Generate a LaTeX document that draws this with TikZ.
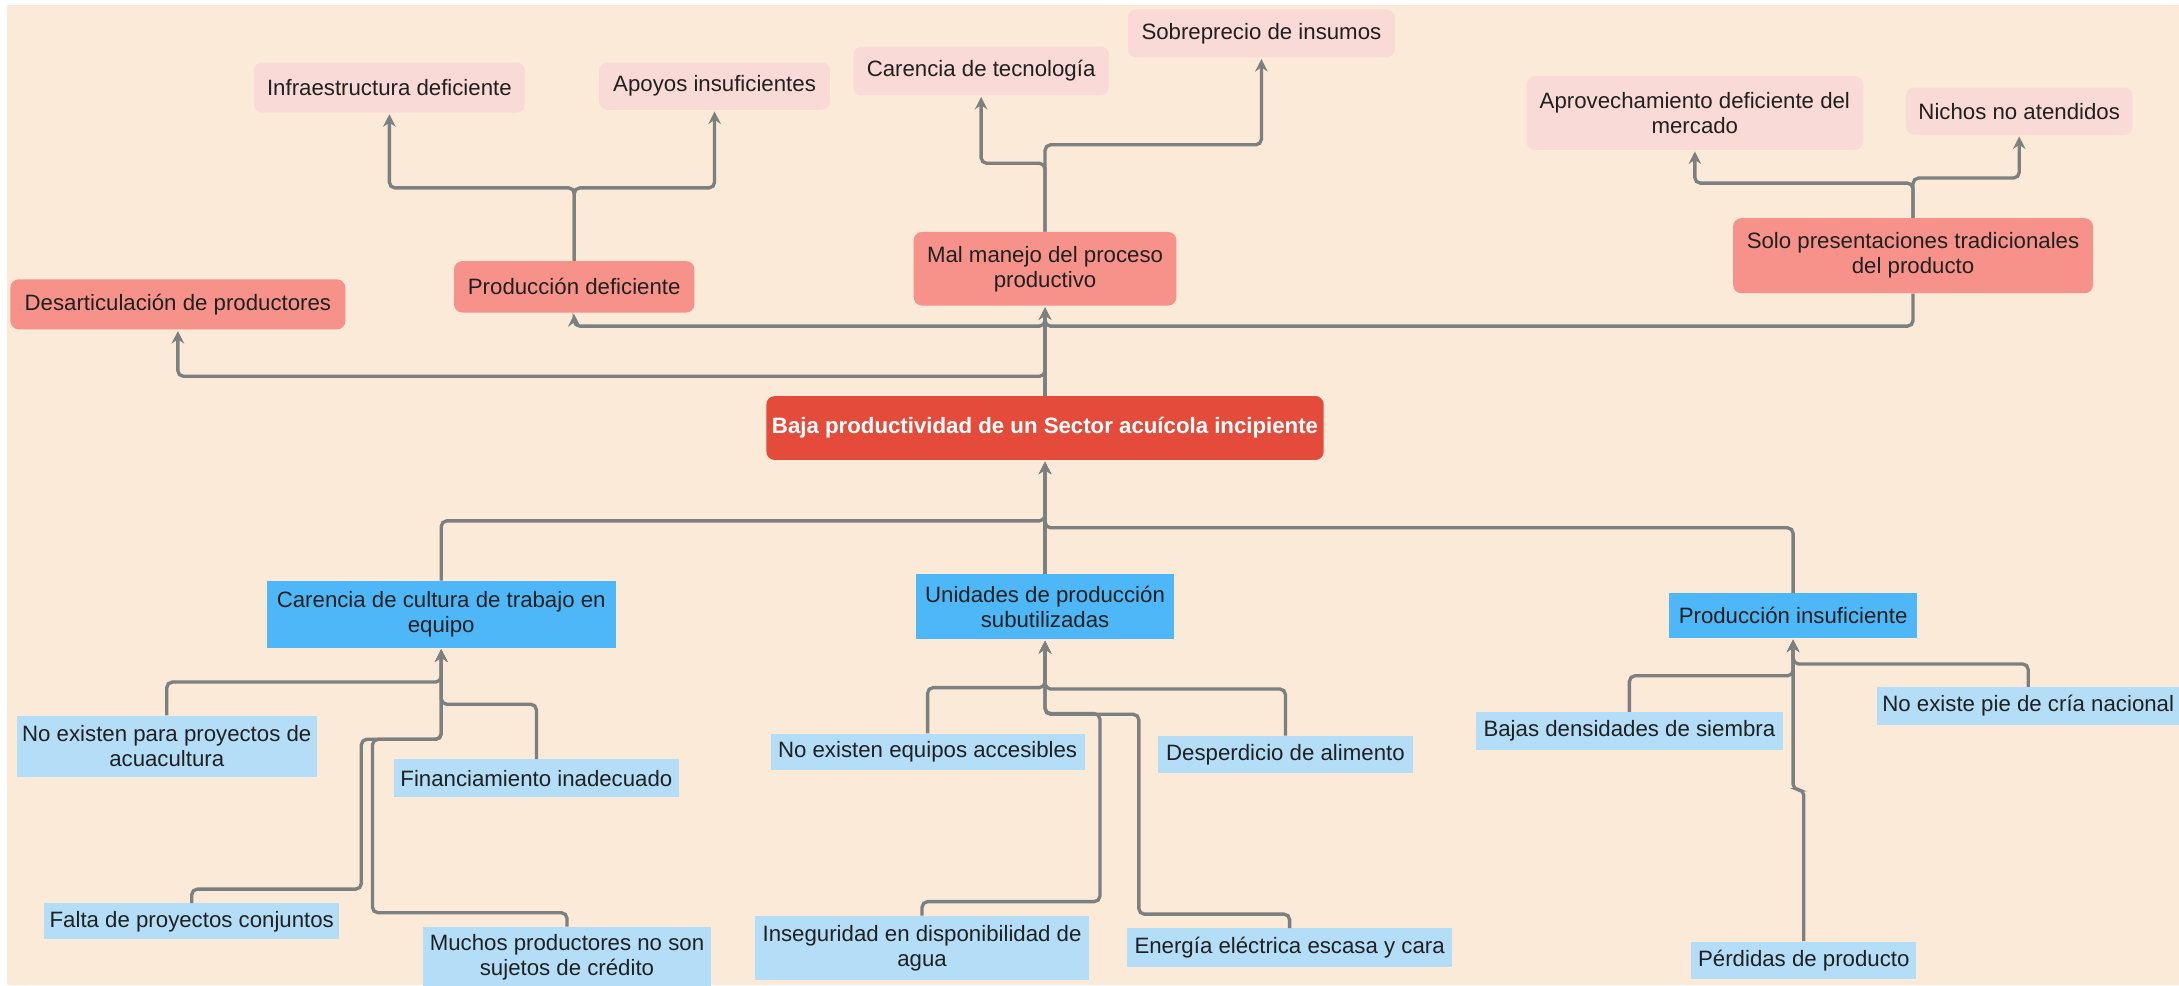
\documentclass[tikz,border=0pt]{standalone}
\usepackage{fontspec}
\setmainfont{Liberation Sans}
\usetikzlibrary{arrows.meta}
\definecolor{cbg}{HTML}{FAEAD7}
\definecolor{cpink}{HTML}{F9DAD6}
\definecolor{csalmon}{HTML}{F7928A}
\definecolor{cred}{HTML}{E54B3B}
\definecolor{cblue}{HTML}{4DB7F7}
\definecolor{clight}{HTML}{B4DEF8}
\definecolor{cline}{HTML}{7D8080}
\definecolor{ctxt}{HTML}{202020}
\begin{document}
\begin{tikzpicture}[x=1pt,y=-1pt,
  base/.style={inner sep=0pt, align=center, font=\fontsize{16}{18}\selectfont, text=ctxt},
  toppink/.style={base, fill=cpink, rounded corners=6pt},
  salmon/.style={base, fill=csalmon, rounded corners=6pt},
  core/.style={base, fill=cred, rounded corners=6pt, text=white, font=\fontsize{16}{18}\selectfont\bfseries},
  cause/.style={base, fill=cblue},
  leaf/.style={base, fill=clight},
  conn/.style={draw=cline, line width=2.4pt, rounded corners=4pt},
  arr/.style={conn, -{Stealth[length=9pt,width=9pt,inset=3pt]}, shorten >=1pt}]
\useasboundingbox (0,0) rectangle (1568,709);
\clip (0,0) rectangle (1568,709);
\fill[white] (0,0) rectangle (1568,709);
\fill[cbg] (5,3.6) rectangle (1568,709);

% top level (effects of effects)
\node[toppink, minimum width=195pt, minimum height=36pt] (inf) at (280.2,63) {Infraestructura deficiente};
\node[toppink, minimum width=166pt, minimum height=34pt] (apo) at (514.2,62) {Apoyos insuficientes};
\node[toppink, minimum width=184pt, minimum height=35pt] (tec) at (706,51) {Carencia de tecnología};
\node[toppink, minimum width=192pt, minimum height=34.5pt] (sob) at (907.7,24) {Sobreprecio de insumos};
\node[toppink, minimum width=242pt, minimum height=53pt] (apr) at (1219.6,81.3) {Aprovechamiento deficiente del\\mercado};
\node[toppink, minimum width=163pt, minimum height=34pt] (nic) at (1453,80) {Nichos no atendidos};

% effects
\node[salmon, minimum width=241pt, minimum height=36pt] (des) at (128,219) {Desarticulación de productores};
\node[salmon, minimum width=173pt, minimum height=37pt] (pde) at (413.2,206.4) {Producción deficiente};
\node[salmon, minimum width=189pt, minimum height=53pt] (mal) at (752,193.4) {Mal manejo del proceso\\productivo};
\node[salmon, minimum width=259pt, minimum height=54pt] (sol) at (1376.6,184) {Solo presentaciones tradicionales\\del producto};

% core problem
\node[core, minimum width=401pt, minimum height=46pt] (cen) at (752,308) {Baja productividad de un Sector acuícola incipiente};

% causes
\node[cause, minimum width=251pt, minimum height=48pt] (cul) at (317.5,442) {Carencia de cultura de trabajo en\\equipo};
\node[cause, minimum width=186pt, minimum height=47pt] (uni) at (752,436.5) {Unidades de producción\\subutilizadas};
\node[cause, minimum width=178pt, minimum height=32pt] (pin) at (1290.3,443) {Producción insuficiente};

% sub causes
\node[leaf, minimum width=216pt, minimum height=44pt] (nex) at (120,537) {No existen para proyectos de\\acuacultura};
\node[leaf, minimum width=205pt, minimum height=27pt] (fin) at (386,560) {Financiamiento inadecuado};
\node[leaf, minimum width=212pt, minimum height=26pt] (fal) at (138,663) {Falta de proyectos conjuntos};
\node[leaf, minimum width=207pt, minimum height=44pt] (muc) at (408,689) {Muchos productores no son\\sujetos de crédito};
\node[leaf, minimum width=226pt, minimum height=26pt] (neq) at (667.5,541) {No existen equipos accesibles};
\node[leaf, minimum width=184pt, minimum height=27pt] (dsp) at (925,543) {Desperdicio de alimento};
\node[leaf, minimum width=240pt, minimum height=46pt] (ins) at (663.5,682) {Inseguridad en disponibilidad de\\agua};
\node[leaf, minimum width=234pt, minimum height=28pt] (ene) at (928,682) {Energía eléctrica escasa y cara};
\node[leaf, minimum width=221pt, minimum height=27pt] (baj) at (1172.5,526) {Bajas densidades de siembra};
\node[leaf, minimum width=218pt, minimum height=27pt] (pie) at (1459.5,508) {No existe pie de cría nacional};
\node[leaf, minimum width=162pt, minimum height=27pt] (per) at (1298,691) {Pérdidas de producto};

% upper connectors
\draw[arr] (pde.north) -- ++(0,-52.5) -| (inf.south);
\draw[arr] (pde.north) -- ++(0,-52.5) -| (apo.south);
\draw[arr] (mal.north) -- ++(0,-49.2) -| (tec.south);
\draw[arr] (mal.north) -- ++(0,-62.5) -| (sob.south);
\draw[arr] (sol.north) -- ++(0,-25) -| (apr.south);
\draw[arr] (sol.north) -- ++(0,-28.7) -| (nic.south);

\draw[arr] (cen.north) -- (mal.south);
\draw[arr] (cen.north) ++(0,-35) -- ++(0,21) -| (des.south);
\draw[arr] (mal.south) ++(0,8) -- ++(0,6.6) -| (pde.south);
\draw[arr] (sol.south) -- ++(0,23.5) -| (mal.south);

% lower connectors
\draw[arr] (cul.north) -- ++(0,-43) -| (cen.south);
\draw[arr] (uni.north) -- (cen.south);
\draw[arr] (pin.north) -- ++(0,-47) -| (cen.south);

\draw[arr] (nex.north) -- ++(0,-24) -| (cul.south);
\draw[arr] (fin.north) -- ++(0,-39.5) -| (cul.south);
\draw[arr] (fal.north) -- ++(0,-10) -| (260,532) -| (cul.south);
\draw[arr] (muc.north) -- ++(0,-10) -| (268,532) -| (cul.south);

\draw[arr] (neq.north) -- ++(0,-33) -| (uni.south);
\draw[arr] (dsp.north) -- ++(0,-33.5) -| (uni.south);
\draw[arr] (ins.north) -- ++(0,-10) -| (791.5,513.5) -| (uni.south);
\draw[arr] (ene.north) -- ++(0,-10) -| (819.5,514) -| (uni.south);

\draw[arr] (baj.north) -- ++(0,-26) -| (pin.south);
\draw[arr] (pie.north) -- ++(0,-16.5) -| (pin.south);
\draw[arr] (per.north) -- ++(0,-109) -| (pin.south);
\end{tikzpicture}
\end{document}
